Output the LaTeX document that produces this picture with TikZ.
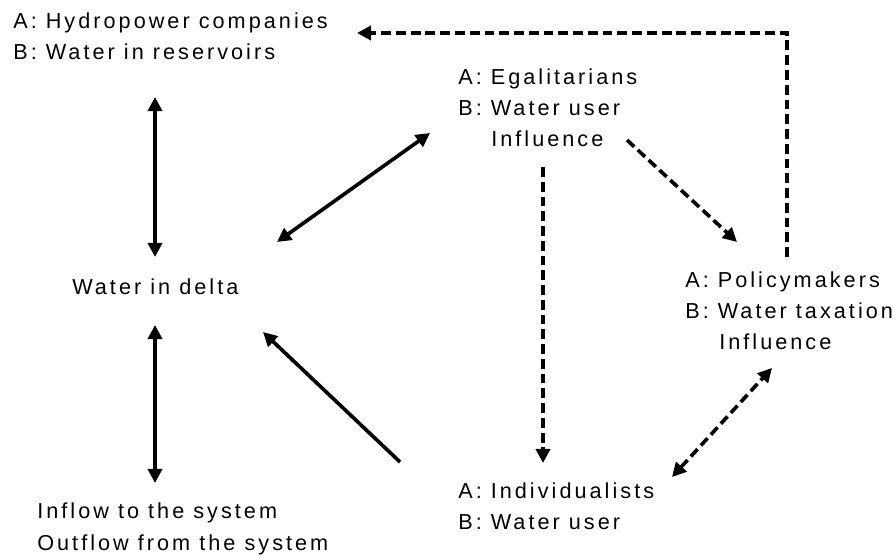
\documentclass[tikz,border=0pt]{standalone}
\usepackage{fontspec}
\setmainfont[LetterSpace=14]{Liberation Sans}
\usetikzlibrary{arrows.meta}

\begin{document}
\begin{tikzpicture}

\tikzset{actor/.style = {anchor=base west,align=left,inner sep=0pt,font=\fontsize{15.4pt}{22.4pt}\selectfont}}
\tikzset{edge/.style = {line width=2.6pt,> = {Triangle[length=10pt,width=10pt]}}}
\tikzset{dedge/.style = {edge,dash pattern=on 7pt off 3.5pt}}
\useasboundingbox (0,0) rectangle (22.325,13.95);
% actors
\node[actor] (hydro) at (0.325,12.45) {A: Hydropower companies\\B: Water in reservoirs};
\node[actor] (egal) at (11.45,10.275) {A: Egalitarians\\B: Water user\\\hspace*{0.825cm}Influence};
\node[actor] (delta) at (1.8,6.575) {Water in delta};
\node[actor] (policy) at (17.125,5.2) {A: Policymakers\\B: Water taxation\\\hspace*{0.85cm}Influence};
\node[actor] (indiv) at (11.45,0.7) {A: Individualists\\B: Water user};
\node[actor] (flow) at (0.925,0.2) {Inflow to the system\\Outflow from the system};
% ends
\coordinate (hd1) at (3.875,11.525);
\coordinate (hd2) at (3.875,7.525);
\coordinate (ed1) at (6.925,7.9);
\coordinate (ed2) at (10.75,10.625);
\coordinate (fd1) at (3.875,5.825);
\coordinate (fd2) at (3.875,1.875);
\coordinate (id1) at (10.0,2.4);
\coordinate (id2) at (6.575,5.65);
\coordinate (ei1) at (13.575,9.775);
\coordinate (ei2) at (13.575,2.375);
\coordinate (ep1) at (15.675,10.45);
\coordinate (ep2) at (18.425,7.9);
\coordinate (ip1) at (16.8,2.025);
\coordinate (ip2) at (19.3,4.75);
\coordinate (ph1) at (19.675,7.525);
\coordinate (ph2) at (19.675,13.125);
\coordinate (ph3) at (8.925,13.125);
% edges
\draw[edge,<->] (hd1) to (hd2);
\draw[edge,<->] (ed1) to (ed2);
\draw[edge,<->] (fd1) to (fd2);
\draw[edge,->] (id1) to (id2);
\draw[dedge,->] (ei1) to (ei2);
\draw[dedge,->] (ep1) to (ep2);
\draw[dedge,<->] (ip1) to (ip2);
\draw[dedge,->] (ph1) -- (ph2) -- (ph3);
\end{tikzpicture}
\end{document}
